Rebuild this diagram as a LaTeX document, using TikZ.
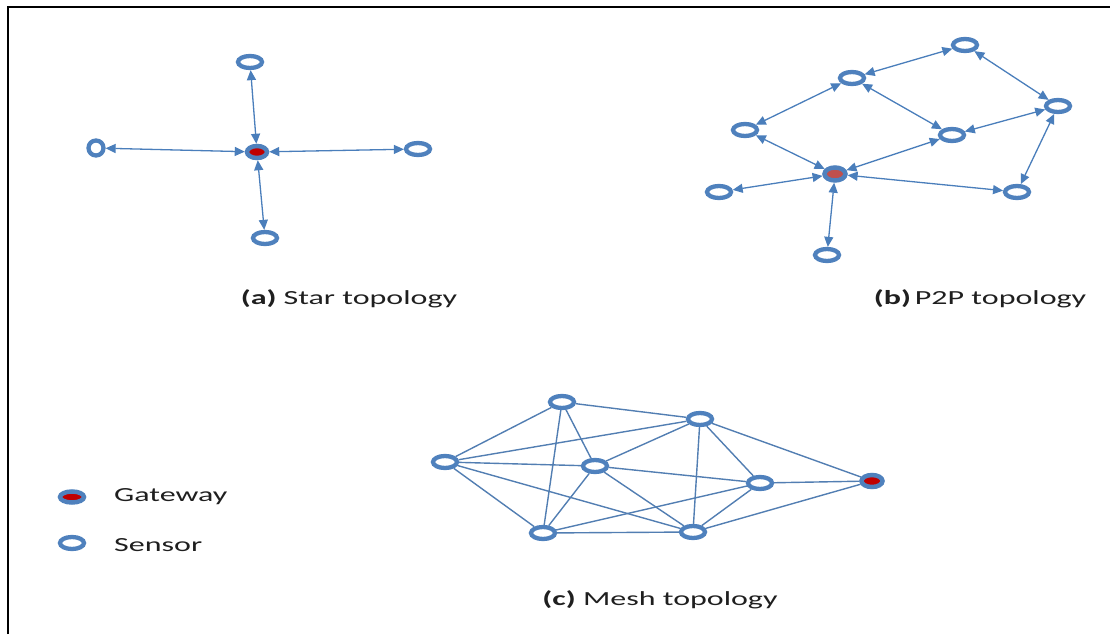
\documentclass[tikz,border=0pt]{standalone}
\usepackage{fontspec}
\setmainfont[FakeStretch=1.6]{Carlito}
\usetikzlibrary{shapes.geometric, arrows.meta, positioning}
\definecolor{nodeblue}{HTML}{4F81BD}
\definecolor{lineblue}{HTML}{4A7EBB}
\definecolor{gatered}{HTML}{C00000}
\definecolor{gatepink}{HTML}{C0504D}
\tikzset{
  sensor/.style={ellipse, draw=nodeblue, line width=4.3pt, fill=white,
    minimum width=24pt, minimum height=12pt, inner sep=0pt},
  gateway/.style={ellipse, draw=nodeblue, line width=4.5pt, fill=gatered,
    minimum width=20pt, minimum height=12pt, inner sep=0pt},
  link/.style={draw=lineblue, line width=1.3pt,
    {Triangle[length=10pt,width=9pt]}-{Triangle[length=10pt,width=9pt]}},
  meshlink/.style={draw=lineblue!85!gray, line width=1.4pt},
  caption/.style={font=\fontsize{20}{23}\selectfont, text=black!88, inner sep=0pt}
}
\begin{document}
\begin{tikzpicture}[x=1pt, y=-1pt]
\useasboundingbox (0,0) rectangle (1110,634);
% Frame
\draw[line width=2pt] (8,634) -- (8,7) -- (1110,7);

% (a) Star topology
\node[gateway] (s0) at (257,152) {};
\node[sensor, minimum width=15pt, minimum height=15pt] (s2) at (96,148) {};
\draw[link] (s0) -- (s2);
\foreach \n/\x/\y in {1/250/62, 3/418/149, 4/265/238} {
    \node[sensor] (s\n) at (\x,\y) {};
    \draw[link] (s0) -- (s\n);
}
\node[caption] (capa) at (349,299) {\textbf{(a)}\hspace{7pt}Star topology};

% (b) P2P topology
\node[gateway, fill=gatepink, minimum width=21pt, minimum height=13pt] (p0) at (835,174) {};
\foreach \n/\x/\y in {1/965/45, 2/852/78, 3/1058/106, 4/745/130,
                      5/952/135, 6/719/192, 7/1017/192, 8/827/255} {
    \node[sensor] (p\n) at (\x,\y) {};
}
\foreach \a/\b in {1/2, 1/3, 2/4, 2/5, 3/5, 3/7, 4/0, 5/0, 0/6, 0/7, 0/8} {
    \draw[link] (p\a) -- (p\b);
}
\node[caption] (capb) at (980,299) {\textbf{(b)}\hspace{4pt}P2P topology};

% (c) Mesh topology
\node[gateway, minimum width=21pt] (mG) at (872,481) {};
\foreach \n/\x/\y in {A/445/462, B/562/402, C/700/419, D/595/466,
                      E/760/483, F/543/533, H/693/532} {
    \node[sensor] (m\n) at (\x,\y) {};
}
\foreach \a/\b in {A/B, A/C, A/D, A/F, A/H, B/C, B/F, B/D, C/D, C/H,
                   C/E, C/G, D/E, D/F, D/H, E/G, E/F, E/H, F/H, H/G} {
    \draw[meshlink] (m\a) -- (m\b);
}
\node[caption] (capc) at (660,600) {\textbf{(c)} Mesh topology};

% Legend
\node[gateway, minimum width=24pt, minimum height=11pt] (lg) at (72,497) {};
\node[sensor] (ls) at (72,543) {};
\node[caption, anchor=west] (lgt) at (114,497) {Gateway};
\node[caption, anchor=west] (lst) at (114,545) {Sensor};
\end{tikzpicture}
\end{document}
